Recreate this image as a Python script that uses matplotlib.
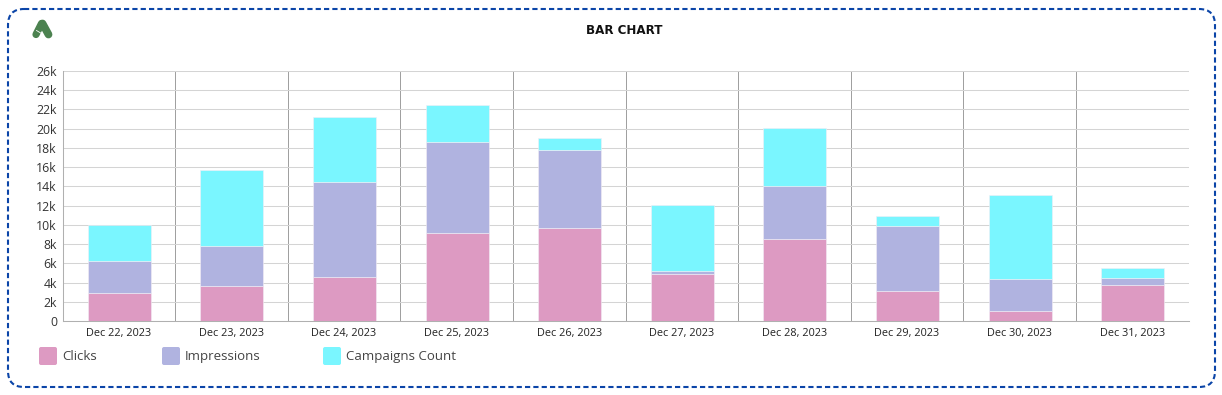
import numpy as np
import matplotlib
matplotlib.use('Agg')
import matplotlib.pyplot as plt
from matplotlib.patches import FancyBboxPatch

plt.rcParams['font.family'] = ['Open Sans', 'DejaVu Sans']

W, H = 1222, 395

dates = ['Dec 22, 2023', 'Dec 23, 2023', 'Dec 24, 2023', 'Dec 25, 2023', 'Dec 26, 2023',
         'Dec 27, 2023', 'Dec 28, 2023', 'Dec 29, 2023', 'Dec 30, 2023', 'Dec 31, 2023']
clicks = [2960, 3650, 4600, 9200, 9700, 4900, 8500, 3150, 1050, 3750]
impressions = [3240, 4200, 9900, 9400, 8100, 350, 5500, 6750, 3350, 750]
campaigns = [3800, 7850, 6700, 3900, 1250, 6850, 6100, 1050, 8750, 1050]
y_ticks = list(range(0, 26001, 2000))
y_labels = ['0'] + [f'{int(v / 1000)}k' for v in y_ticks[1:]]

series = [('Clicks', clicks, '#dd9ac2'),
          ('Impressions', impressions, '#b0b3e0'),
          ('Campaigns Count', campaigns, '#7af6ff')]

fig = plt.figure(figsize=(W / 100, H / 100), dpi=100)

# full figure overlay in pixel coords, y going down
bg = fig.add_axes([0, 0, 1, 1])
bg.set_xlim(0, W)
bg.set_ylim(H, 0)
bg.axis('off')

bg.add_patch(FancyBboxPatch((24, 25), 1175, 346, boxstyle='round,pad=16,rounding_size=16',
                            fc='white', ec='#0b45a8', lw=1.5, ls=(0, (2.5, 1.5))))

# logo
green = '#4c8250'
bg.plot([41.5, 36], [23.5, 34.5], color=green, lw=5.2, solid_capstyle='round')
bg.plot([42.5, 48.5], [23.5, 34.5], color=green, lw=5.6, solid_capstyle='round')
bg.plot([36.5, 41.5], [30.5, 33.5], color='white', lw=0.6)

bg.text(624.5, 30.5, 'BAR CHART', ha='center', va='center', fontsize=8.6,
        family='DejaVu Sans', fontweight='bold', color='#111111')

# legend
for (name, vals, col), bx, tx in zip(series, [39, 162, 323], [62, 185, 346]):
    bg.add_patch(FancyBboxPatch((bx + 2, 349), 14, 14, boxstyle='round,pad=2,rounding_size=2',
                                fc=col, ec='none'))
    bg.text(tx, 356.5, name, ha='left', va='center', fontsize=9.5, color='#444444')

ax = fig.add_axes([62.5 / W, 1 - 321 / H, 1126 / W, 250 / H])
ax.patch.set_alpha(0)

x = np.arange(len(dates))
bottom = np.zeros(len(dates))
for name, vals, col in series:
    ax.bar(x + 0.005, vals, 0.56, bottom=bottom, color=col, edgecolor='#f4eef6', linewidth=0.4,
           zorder=3)
    bottom = bottom + np.array(vals)

ax.set_xlim(-0.5, len(dates) - 0.5)
ax.set_ylim(0, 26000)
ax.set_yticks(y_ticks)
ax.set_yticklabels(y_labels, fontsize=8.8, color='#333333')
ax.set_xticks(x)
ax.set_xticklabels(dates, fontsize=7.8, color='#222222')
ax.tick_params(axis='both', length=0)
ax.tick_params(axis='y', pad=4)
ax.tick_params(axis='x', pad=5)

ax.grid(axis='y', color='#d4d4d4', lw=0.75, zorder=0)
for v in x[:-1] + 0.5:
    ax.axvline(v, color='#a0a0a0', lw=0.72, zorder=1)

for s in ['top', 'right']:
    ax.spines[s].set_visible(False)
for s in ['left', 'bottom']:
    ax.spines[s].set_color('#b0b0b0')
    ax.spines[s].set_linewidth(0.75)

fig.savefig('out.png', dpi=100)
